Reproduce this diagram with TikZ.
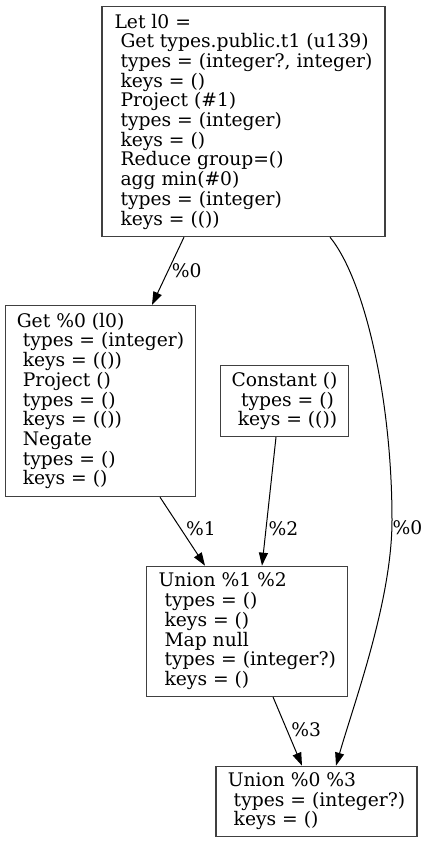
\documentclass[tikz,border=0pt]{standalone}
\usepackage{fontspec}
\setmainfont{DejaVu Serif}
\usetikzlibrary{arrows.meta}
\begin{document}
\begin{tikzpicture}[x=1pt, y=-1pt, >={Triangle[length=13pt,width=9pt]},
    font=\fontsize{18.7}{19.7}\selectfont,
    blk/.style={draw=black!75, line width=1.3pt, inner sep=0pt, align=left},
    lbl/.style={inner sep=1pt},
    edge/.style={->, line width=1pt}]
    \useasboundingbox (0,0) rectangle (426,843);
    \node[blk, minimum width=283pt, minimum height=230pt] (l0) at (243.5,121.5)
        {Let l0 =\\ ~Get types.public.t1 (u139)\\ ~types = (integer?, integer)\\ ~keys = ()\\
         ~Project (\#1)\\ ~types = (integer)\\ ~keys = ()\\ ~Reduce group=()\\
         ~agg min(\#0)\\ ~types = (integer)\\ ~keys = (())};
    \node[blk, minimum width=190pt, minimum height=191pt] (get) at (100.5,401)
        {Get \%0 (l0)\\ ~types = (integer)\\ ~keys = (())\\ ~Project ()\\ ~types = ()\\
         ~keys = (())\\ ~Negate\\ ~types = ()\\ ~keys = ()};
    \node[blk, align=center, minimum width=128pt, minimum height=71pt] (const) at (284.5,401)
        {Constant ()\\ ~types = ()\\ ~keys = (())};
    \node[blk, minimum width=201pt, minimum height=130pt] (un1) at (247.3,631.3)
        {Union \%1 \%2\\ ~types = ()\\ ~keys = ()\\ ~Map null\\ ~types = (integer?)\\ ~keys = ()};
    \node[blk, minimum width=201pt, minimum height=70pt] (un2) at (316.5,801.3)
        {Union \%0 \%3\\ ~types = (integer?)\\ ~keys = ()};
    \draw[edge] ([xshift=-59.5pt]l0.south) -- node[lbl, pos=0.49, right=2pt] {\%0} ([xshift=51.5pt]get.north);
    \draw[edge] ([xshift=59.5pt]get.south) -- node[lbl, pos=0.46, right=4pt] {\%1} ([xshift=-42.3pt]un1.north);
    \draw[edge] ([xshift=-8.5pt]const.south) -- node[lbl, pos=0.71, right=1pt] {\%2} ([xshift=14.7pt]un1.north);
    \draw[edge] ([xshift=25.7pt]un1.south) -- node[lbl, pos=0.48, right=3pt] {\%3} ([xshift=-14.5pt]un2.north);
    \draw[edge] ([xshift=86.5pt]l0.south) .. controls (365,280) and (392,400) .. (392,520)
        node[lbl, anchor=west, inner sep=0pt, yshift=-8pt] {\%0}
        .. controls (392,600) and (355,700) .. ([xshift=19.5pt]un2.north);
\end{tikzpicture}
\end{document}
